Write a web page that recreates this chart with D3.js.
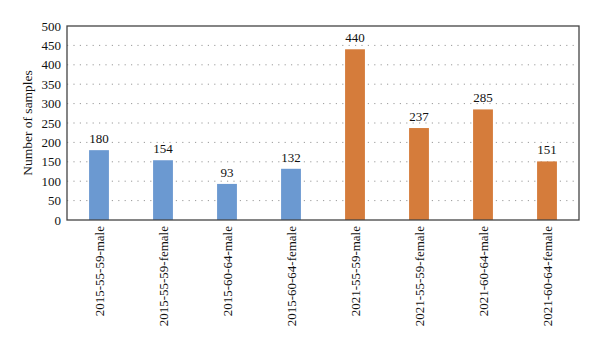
<!DOCTYPE html>
<html>
<head>
<meta charset="utf-8">
<script src="https://cdn.jsdelivr.net/npm/d3@7"></script>
<style>
  html, body { margin: 0; padding: 0; background: #fff; }
  svg text { font-family: "Liberation Serif", "Times New Roman", serif; fill: #111; }
</style>
</head>
<body>
<svg id="chart" width="600" height="347"></svg>
<script>
// Sample counts by survey year, age group and sex
const categories = [
  "2015-55-59-male", "2015-55-59-female", "2015-60-64-male", "2015-60-64-female",
  "2021-55-59-male", "2021-55-59-female", "2021-60-64-male", "2021-60-64-female"
];
const counts = [180, 154, 93, 132, 440, 237, 285, 151];
const years = ["2015", "2015", "2015", "2015", "2021", "2021", "2021", "2021"];
const yTicks = [0, 50, 100, 150, 200, 250, 300, 350, 400, 450, 500];
const yLabel = "Number of samples";

const svg = d3.select("#chart");
const margin = { top: 26, right: 21, bottom: 127, left: 67 };
const width = 600 - margin.left - margin.right;
const height = 347 - margin.top - margin.bottom;

const g = svg.append("g").attr("transform", `translate(${margin.left},${margin.top})`);

const x = d3.scaleBand().domain(categories).range([0, width]).paddingInner(0.69).paddingOuter(0.345);
const y = d3.scaleLinear().domain([0, 500]).range([height, 0]);
const color = d3.scaleOrdinal().domain(["2015", "2021"]).range(["#6b99d1", "#d57c3b"]);

// dotted horizontal gridlines
g.append("g")
  .selectAll("line")
  .data(yTicks.filter(t => t > 0 && t < 500))
  .join("line")
  .attr("x1", 0).attr("x2", width)
  .attr("y1", d => y(d)).attr("y2", d => y(d))
  .attr("stroke", "#9a9a9a")
  .attr("stroke-width", 1)
  .attr("stroke-dasharray", "1.2,5.2");

// bars
g.append("g")
  .selectAll("rect")
  .data(categories)
  .join("rect")
  .attr("x", d => x(d))
  .attr("width", x.bandwidth())
  .attr("y", (d, i) => y(counts[i]))
  .attr("height", (d, i) => height - y(counts[i]))
  .attr("fill", (d, i) => color(years[i]));

// value labels
g.append("g")
  .selectAll("text")
  .data(categories)
  .join("text")
  .attr("x", d => x(d) + x.bandwidth() / 2)
  .attr("y", (d, i) => y(counts[i]) - 7)
  .attr("text-anchor", "middle")
  .attr("font-size", 13)
  .text((d, i) => counts[i]);

// frame
g.append("rect")
  .attr("x", 0).attr("y", 0)
  .attr("width", width).attr("height", height)
  .attr("fill", "none")
  .attr("stroke", "#444")
  .attr("stroke-width", 1.3);

// y axis
const yAxis = g.append("g")
  .call(d3.axisLeft(y).tickValues(yTicks).tickSize(0).tickPadding(6));
yAxis.select(".domain").remove();
yAxis.selectAll("text").attr("font-size", 13);

// x axis
const xAxis = g.append("g")
  .attr("transform", `translate(0,${height})`)
  .call(d3.axisBottom(x).tickSize(0).tickPadding(0));
xAxis.select(".domain").remove();
xAxis.selectAll("text")
  .attr("font-size", 13)
  .attr("text-anchor", "end")
  .attr("dy", "0.35em")
  .attr("transform", "translate(0,6) rotate(-90)")
  .attr("x", 0)
  .attr("y", 0);

// y axis title
svg.append("text")
  .attr("transform", `translate(32,${margin.top + height / 2}) rotate(-90)`)
  .attr("text-anchor", "middle")
  .attr("font-size", 13.5)
  .text(yLabel);
</script>
</body>
</html>
